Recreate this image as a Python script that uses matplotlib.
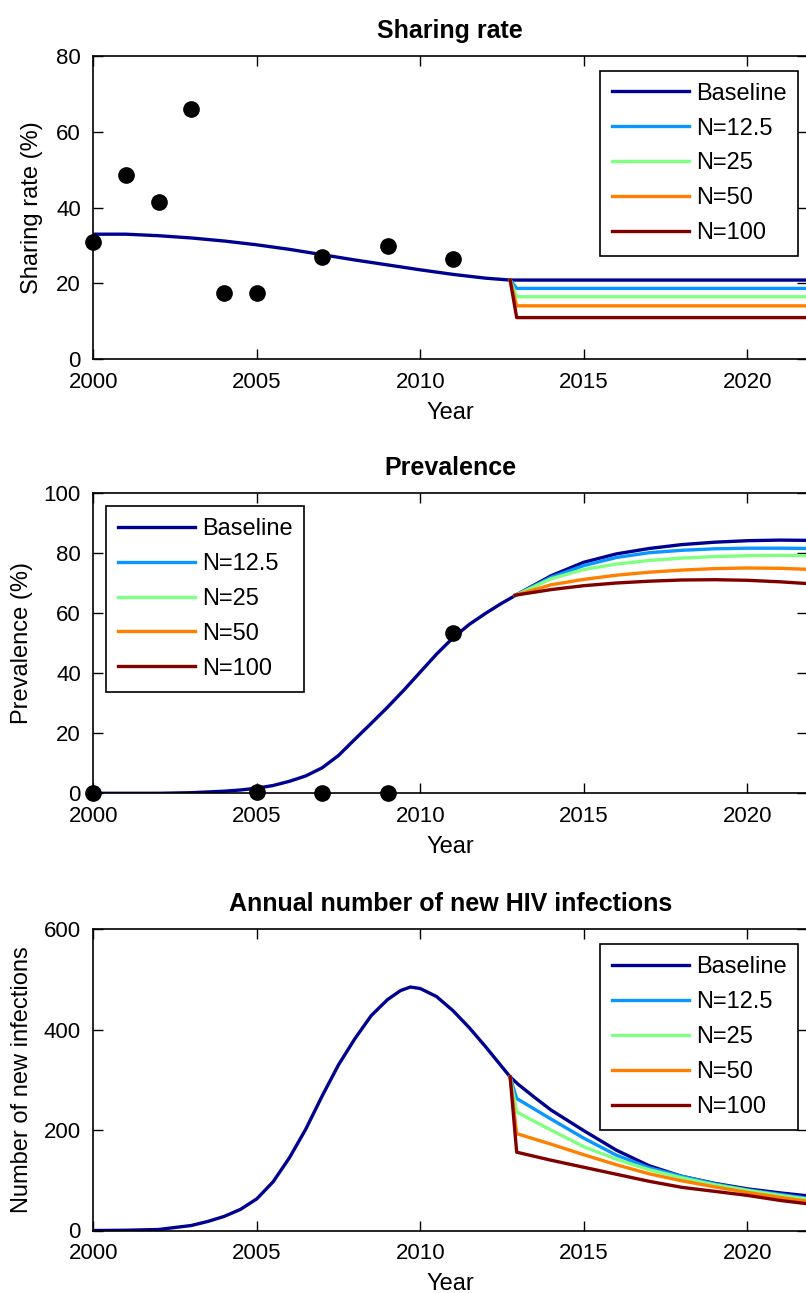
# Sharing rate, prevalence and new HIV infections: baseline vs scenarios N
import numpy as np
import matplotlib
matplotlib.use('Agg')
import matplotlib.pyplot as plt

plt.rcParams['font.family'] = ['Liberation Sans', 'DejaVu Sans']

# Series labels and colours
labels = ['Baseline', 'N=12.5', 'N=25', 'N=50', 'N=100']
colors = ['#000090', '#0A96FF', '#80FF80', '#FF8000', '#800000']

# --- Sharing rate ---
share_obs_years = [2000, 2001, 2002, 2003, 2004, 2005, 2007, 2009, 2011]
share_obs = [31, 48.5, 41.5, 66, 17.5, 17.5, 27, 30, 26.5]

share_t = [2000, 2001, 2002, 2003, 2004, 2005, 2006, 2007, 2008, 2009, 2010, 2011,
           2012, 2012.75, 2022]
share_base = [33.0, 33.0, 32.6, 32.0, 31.2, 30.2, 29.0, 27.6, 26.2, 24.9, 23.6, 22.4,
              21.4, 20.9, 20.9]
share_scen_t = [2012.75, 2012.95, 2022]
share_n12 = [20.9, 18.7, 18.7]
share_n25 = [20.9, 16.5, 16.5]
share_n50 = [20.9, 14.1, 14.1]
share_n100 = [20.9, 11.0, 11.0]

# --- Prevalence ---
prev_obs_years = [2000, 2005, 2007, 2009, 2011]
prev_obs = [0, 0.5, 0, 0, 53.5]

prev_t = [2000, 2002, 2003, 2004, 2004.5, 2005, 2005.5, 2006, 2006.5, 2007, 2007.5,
          2008, 2008.5, 2009, 2009.5, 2010, 2010.5, 2011, 2011.5, 2012, 2012.5,
          2013, 2014, 2015, 2016, 2017, 2018, 2019, 2020, 2021, 2022]
prev_base = [0, 0, 0.2, 0.7, 1.1, 1.7, 2.6, 4.0, 5.8, 8.5, 12.6,
             18.0, 23.3, 28.7, 34.4, 40.4, 46.4, 51.8, 56.3, 60.0, 63.4,
             66.5, 72.5, 77.0, 79.8, 81.6, 82.9, 83.7, 84.2, 84.4, 84.3]
prev_scen_t = [2012.9, 2013, 2014, 2015, 2016, 2017, 2018, 2019, 2020, 2021, 2022]
prev_n12 = [66.0, 66.5, 72.0, 75.9, 78.6, 80.2, 81.0, 81.5, 81.7, 81.7, 81.6]
prev_n25 = [66.0, 66.4, 71.5, 74.6, 76.4, 77.6, 78.4, 78.9, 79.2, 79.3, 79.2]
prev_n50 = [66.0, 66.3, 69.5, 71.3, 72.7, 73.7, 74.4, 74.9, 75.1, 75.0, 74.6]
prev_n100 = [66.0, 66.2, 67.9, 69.2, 70.1, 70.7, 71.1, 71.2, 71.0, 70.5, 69.8]

# --- Annual new infections ---
inf_t = [2000, 2001, 2002, 2003, 2003.5, 2004, 2004.5, 2005, 2005.5, 2006, 2006.5,
         2007, 2007.5, 2008, 2008.5, 2009, 2009.4, 2009.7, 2010, 2010.5, 2011, 2011.5,
         2012, 2012.75, 2013, 2013.5, 2014, 2015, 2016, 2017, 2018, 2019, 2020,
         2021, 2022]
inf_base = [0, 0.5, 2, 10, 18, 28, 42, 63, 97, 145, 202,
            268, 330, 382, 428, 460, 478, 485, 482, 466, 438, 404,
            366, 306, 291, 265, 240, 199, 160, 129, 108, 94, 83, 75, 68]
inf_scen_t = [2012.75, 2012.95, 2014, 2015, 2016, 2017, 2018, 2019, 2020, 2021, 2022]
inf_n12 = [306, 263, 222, 184, 150, 125, 108, 93, 81, 72, 63]
inf_n25 = [306, 236, 200, 167, 142, 121, 105, 91, 80, 70, 61]
inf_n50 = [306, 193, 172, 151, 131, 113, 99, 87, 76, 66, 57]
inf_n100 = [306, 156, 140, 126, 112, 98, 86, 78, 70, 60, 52]

W, H = 806, 1293
fig = plt.figure(figsize=(W / 100, H / 100), dpi=100)

left = 93.3 / W
width = (807 - 93.3) / W


def make_ax(top_px, bot_px):
    return fig.add_axes([left, 1 - bot_px / H, width, (bot_px - top_px) / H])


def style(ax, title, ylabel, ylim, yticks, ylab_x):
    ax.set_xlim(2000, 2021.83)
    ax.set_ylim(*ylim)
    ax.set_xticks([2000, 2005, 2010, 2015, 2020])
    ax.set_yticks(yticks)
    ax.tick_params(direction='in', length=7, width=1, top=True, right=True,
                   labelsize=16, pad=9, colors='black')
    for s in ax.spines.values():
        s.set_linewidth(1.2)
    ax.set_title(title, fontsize=18, fontweight='bold', pad=13)
    ax.set_xlabel('Year', fontsize=17)
    ax.set_ylabel(ylabel, fontsize=17)
    ax.xaxis.set_label_coords(0.5, -0.142)
    ax.yaxis.set_label_coords(ylab_x, 0.5)


def add_legend(ax, loc, anchor):
    leg = ax.legend(loc=loc, bbox_to_anchor=anchor, borderaxespad=0, fontsize=17,
                    fancybox=False, edgecolor='black', framealpha=1,
                    handlelength=3.25, handletextpad=0.3, labelspacing=0.55,
                    borderpad=0.5)
    leg.get_frame().set_linewidth(1.2)


lw = 2.4

# Plot 1
ax1 = make_ax(56, 359.3)
ax1.plot(share_t, share_base, color=colors[0], lw=lw, label=labels[0])
for vals, c, lab in zip([share_n12, share_n25, share_n50, share_n100], colors[1:], labels[1:]):
    ax1.plot(share_scen_t, vals, color=c, lw=lw, label=lab)
ax1.plot(share_obs_years, share_obs, 'o', color='black', ms=11, clip_on=False, zorder=5)
style(ax1, 'Sharing rate', 'Sharing rate (%)', (0, 80), [0, 20, 40, 60, 80], -0.07)
add_legend(ax1, 'upper right', (0.9878, 0.9515))

# Plot 2
ax2 = make_ax(493.3, 793.3)
ax2.plot(prev_t, prev_base, color=colors[0], lw=lw, label=labels[0])
for vals, c, lab in zip([prev_n12, prev_n25, prev_n50, prev_n100], colors[1:], labels[1:]):
    ax2.plot(prev_scen_t, vals, color=c, lw=lw, label=lab)
ax2.plot(prev_obs_years, prev_obs, 'o', color='black', ms=11, clip_on=False, zorder=5)
style(ax2, 'Prevalence', 'Prevalence (%)', (0, 100), [0, 20, 40, 60, 80, 100], -0.0845)
add_legend(ax2, 'upper left', (0.0178, 0.9577))

# Plot 3
ax3 = make_ax(929.3, 1230.5)
ax3.plot(inf_t, inf_base, color=colors[0], lw=lw, label=labels[0])
for vals, c, lab in zip([inf_n12, inf_n25, inf_n50, inf_n100], colors[1:], labels[1:]):
    ax3.plot(inf_scen_t, vals, color=c, lw=lw, label=lab)
style(ax3, 'Annual number of new HIV infections', 'Number of new infections',
      (0, 600), [0, 200, 400, 600], -0.0846)
add_legend(ax3, 'upper right', (0.9878, 0.951))

fig.savefig('out.png', dpi=100)
